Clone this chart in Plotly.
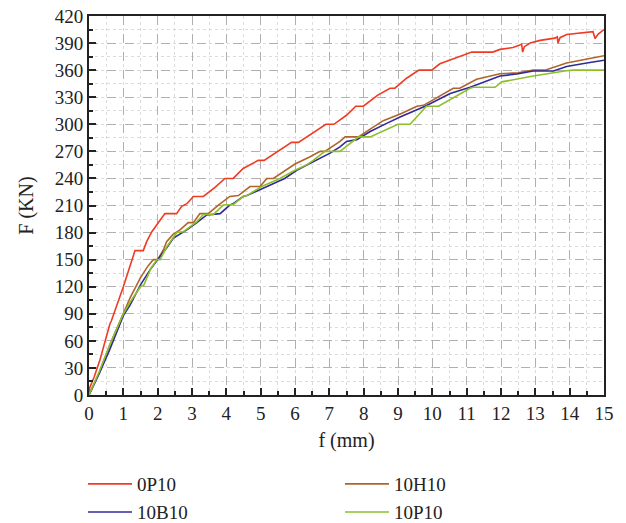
import plotly.graph_objects as go

names = ["0P10", "10H10", "10B10", "10P10"]
colors = ["#ef3b23", "#b0642a", "#2f2a98", "#8dbf2a"]
legend_ids = ["legend", "legend", "legend2", "legend2"]

x_0P10 = [0, 0.02, 0.15, 0.32, 0.61, 0.65, 1.0, 1.34, 1.58, 1.68, 1.83, 2.02, 2.21, 2.55, 2.7, 2.85, 3.04, 3.33,
          3.67, 3.96, 4.2, 4.49, 4.93, 5.1, 5.56, 5.9, 6.1, 6.58, 6.9, 7.13, 7.5, 7.77, 7.99, 8.4, 8.77, 8.91,
          9.25, 9.61, 9.98, 10.22, 10.71, 11.15, 11.76, 11.97, 12.35, 12.6, 12.63, 12.68, 12.85, 13.14, 13.57,
          13.64, 13.66, 13.72, 13.91, 14.3, 14.68, 14.74, 14.83, 15.0]
y_0P10 = [0, 8, 20, 39, 79, 82, 120, 160, 160, 170, 181, 191, 201, 201, 209, 212, 220, 220,
          230, 240, 240, 251, 260, 260, 271, 280, 280, 292, 300, 300, 310, 320, 320, 332, 340, 340,
          351, 360, 360, 367, 374, 380, 380, 383, 385, 388.6, 380, 386, 390, 393, 395.5,
          397, 390, 396, 399.6, 401, 402.6, 395, 400, 405]

x_10H10 = [0, 0.3, 0.6, 1.0, 1.2, 1.5, 1.7, 1.87, 2.0, 2.17, 2.26, 2.45, 2.65, 2.89, 3.04, 3.23, 3.47, 3.77,
           4.1, 4.35, 4.69, 4.98, 5.18, 5.37, 5.86, 6.0, 6.44, 6.73, 6.87, 7.31, 7.46, 7.85, 8.2, 8.57, 9.1,
           9.55, 9.74, 10.2, 10.61, 10.8, 11.29, 11.97, 12.5, 12.94, 13.28, 13.91, 14.5, 15.0]
y_10H10 = [0, 25, 55, 90, 108, 130, 142, 150, 150, 161, 170, 178, 183, 191, 191, 201, 201, 210.5,
           220, 221, 231, 231, 240, 240, 253, 256, 264, 270, 270, 281, 286, 286, 295, 304, 312,
           320, 321, 331, 340, 340, 350, 356, 357, 360, 360, 368, 372, 376]

x_10B10 = [0, 0.3, 0.6, 1.0, 1.2, 1.5, 1.8, 2.07, 2.26, 2.46, 2.85, 3.14, 3.43, 3.82, 4.1, 4.2, 4.49, 4.6,
           5.18, 5.7, 6.05, 6.15, 6.53, 7.02, 7.31, 7.5, 7.8, 8.19, 8.67, 9.06, 9.79, 10.52, 11.1, 11.5,
           11.97, 12.46, 12.94, 13.53, 13.91, 14.5, 15.0]
y_10B10 = [0, 24, 50, 88, 100, 122, 140, 153, 163, 174, 183, 191, 199.5, 201, 210.5, 212, 220, 221,
           231, 240, 249, 251, 258, 268, 275, 281, 283, 292, 301, 308, 320, 334, 341, 347,
           353.5, 355.7, 359, 359, 364, 368, 371]

x_10P10 = [0, 0.3, 0.6, 1.0, 1.2, 1.5, 1.6, 1.8, 1.98, 2.07, 2.26, 2.56, 2.75, 3.14, 3.33, 3.62, 3.91, 4.2,
           4.49, 4.6, 5.03, 5.56, 6.0, 6.34, 6.53, 6.87, 7.31, 7.85, 8.19, 9.0, 9.35, 9.83, 10.18, 11.1,
           11.2, 11.83, 12.02, 12.94, 13.9, 14.1, 15.0]
y_10P10 = [0, 26, 55, 90, 103, 120, 122, 140, 150, 150, 164, 180, 181, 192, 200, 200, 210.5, 211,
           220, 221, 231, 240, 249, 255, 260, 270, 270, 286, 286, 300, 300, 320, 320, 340,
           341, 341, 347, 353.5, 359.4, 360, 360]

xs = [x_0P10, x_10H10, x_10B10, x_10P10]
ys = [y_0P10, y_10H10, y_10B10, y_10P10]

x_ticks = list(range(0, 16))
y_ticks = list(range(0, 421, 30))

font_family = "Liberation Serif"
ink = "#222"

fig = go.Figure()
for n, c, lg, xv, yv in zip(names, colors, legend_ids, xs, ys):
    fig.add_trace(go.Scatter(x=xv, y=yv, mode="lines", name=n, legend=lg,
                             line=dict(color=c, width=1.6)))

axis_common = dict(
    showline=True, linecolor=ink, linewidth=2, mirror=True,
    ticks="inside", ticklen=7, tickwidth=1.5, tickcolor=ink,
    showgrid=True, gridcolor="#b0b0b0", griddash="dash", gridwidth=1,
    zeroline=False, automargin=False, ticklabeloverflow="allow",
    tickfont=dict(family=font_family, size=19, color=ink),
)

fig.update_xaxes(range=[0, 15], tickvals=x_ticks, ticktext=[str(v) for v in x_ticks],
                 title=dict(text="f (mm)", font=dict(family=font_family, size=20, color=ink), standoff=10),
                 minor=dict(dtick=0.5, ticks="inside", ticklen=4, tickcolor=ink,
                            showgrid=True, gridcolor="#dcdcdc", griddash="dot"),
                 **axis_common)
fig.update_yaxes(range=[0, 420], tickvals=y_ticks, ticktext=[str(v) for v in y_ticks],
                 title=dict(text="F (KN)", font=dict(family=font_family, size=20, color=ink), standoff=16),
                 minor=dict(dtick=15, ticks="inside", ticklen=4, tickcolor=ink,
                            showgrid=True, gridcolor="#dcdcdc", griddash="dot"),
                 **axis_common)

legend_common = dict(orientation="h", x=-0.0117, xanchor="left", yanchor="middle",
                     entrywidth=198, entrywidthmode="pixels", itemwidth=44,
                     font=dict(family=font_family, size=19, color=ink),
                     bgcolor="rgba(0,0,0,0)", borderwidth=0)

fig.update_layout(
    width=626, height=523,
    margin=dict(l=89, r=22, t=16, b=128, autoexpand=False),
    paper_bgcolor="white", plot_bgcolor="white",
    font=dict(family=font_family, size=19, color=ink),
    showlegend=True,
    legend=dict(y=-0.235, **legend_common),
    legend2=dict(y=-0.309, **legend_common),
)

fig.write_html("out.html", config={"displayModeBar": False},
               post_script="document.body.style.margin='0';document.body.style.overflow='hidden';")
